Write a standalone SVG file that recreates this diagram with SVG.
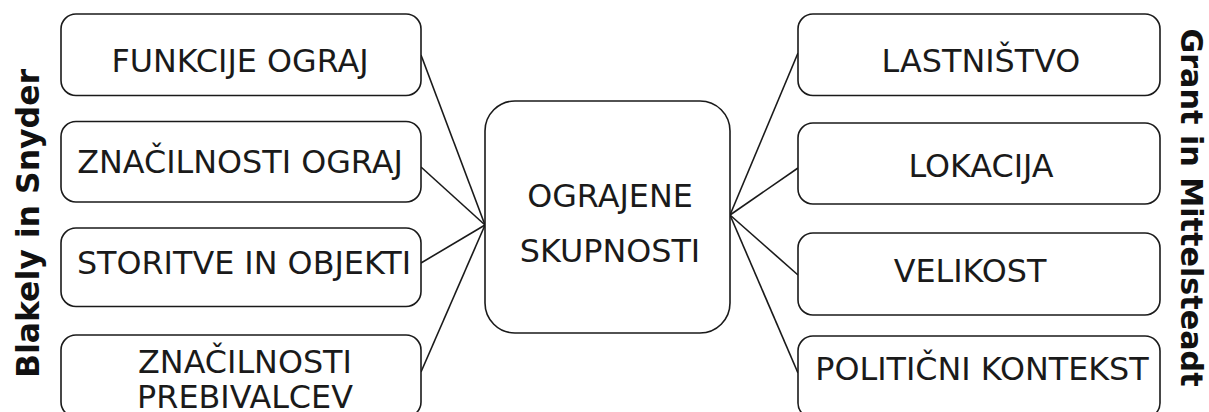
<svg xmlns="http://www.w3.org/2000/svg" width="1209" height="412" viewBox="0 0 1209 412">
  <style>
    .box { fill: #ffffff; stroke: #1a1a1a; stroke-width: 1.6; }
    .lbl { font-family: "DejaVu Sans", sans-serif; font-size: 31.8px; fill: #1a1a1a; text-anchor: middle; }
    .side { font-family: "DejaVu Sans", sans-serif; font-weight: bold; font-size: 31.5px; fill: #111111; text-anchor: middle; }
    .link { stroke: #1a1a1a; stroke-width: 1.6; fill: none; }
  </style>
  <rect width="1209" height="412" fill="#ffffff"/>

  <!-- connectors -->
  <g id="connectors">
    <line class="link" x1="421" y1="55" x2="485" y2="225"/>
    <line class="link" x1="421" y1="167" x2="485" y2="225"/>
    <line class="link" x1="421" y1="263" x2="485" y2="225"/>
    <line class="link" x1="421" y1="372" x2="485" y2="225"/>
    <line class="link" x1="798" y1="53" x2="730" y2="215"/>
    <line class="link" x1="798" y1="168" x2="730" y2="215"/>
    <line class="link" x1="798" y1="275" x2="730" y2="215"/>
    <line class="link" x1="798" y1="373" x2="730" y2="215"/>
  </g>

  <!-- central node -->
  <g id="center">
    <rect class="box" x="485" y="101" width="245" height="232" rx="30" ry="30"/>
    <text class="lbl" x="610" y="207">OGRAJENE</text>
    <text class="lbl" x="610" y="262">SKUPNOSTI</text>
  </g>

  <!-- left column -->
  <g id="funkcije">
    <rect class="box" x="61" y="14" width="360" height="81.5" rx="15" ry="15"/>
    <text class="lbl" x="240" y="72">FUNKCIJE OGRAJ</text>
  </g>
  <g id="znacilnosti-ograj">
    <rect class="box" x="61" y="121.5" width="360" height="80.5" rx="15" ry="15"/>
    <text class="lbl" x="240" y="173">ZNAČILNOSTI OGRAJ</text>
  </g>
  <g id="storitve">
    <rect class="box" x="61" y="228" width="360" height="78.5" rx="15" ry="15"/>
    <text class="lbl" x="244" y="274">STORITVE IN OBJEKTI</text>
  </g>
  <g id="prebivalci">
    <rect class="box" x="61" y="335" width="360" height="82" rx="15" ry="15"/>
    <text class="lbl" x="245" y="373">ZNAČILNOSTI</text>
    <text class="lbl" x="245" y="407.5">PREBIVALCEV</text>
  </g>

  <!-- right column -->
  <g id="lastnistvo">
    <rect class="box" x="798" y="14" width="362" height="81.5" rx="15" ry="15"/>
    <text class="lbl" x="981" y="72">LASTNIŠTVO</text>
  </g>
  <g id="lokacija">
    <rect class="box" x="798" y="123" width="362" height="81" rx="15" ry="15"/>
    <text class="lbl" x="981" y="177">LOKACIJA</text>
  </g>
  <g id="velikost">
    <rect class="box" x="798" y="233" width="362" height="82" rx="15" ry="15"/>
    <text class="lbl" x="970" y="282">VELIKOST</text>
  </g>
  <g id="politicni">
    <rect class="box" x="798" y="336" width="362" height="82" rx="15" ry="15"/>
    <text class="lbl" x="982" y="380">POLITIČNI KONTEKST</text>
  </g>

  <!-- column headings -->
  <g id="heading-left">
    <text class="side" transform="translate(38.5,223.5) rotate(-90)">Blakely in Snyder</text>
  </g>
  <g id="heading-right">
    <text class="side" style="font-size:30.2px" transform="translate(1181,207.5) rotate(90)">Grant in Mittelsteadt</text>
  </g>
</svg>
